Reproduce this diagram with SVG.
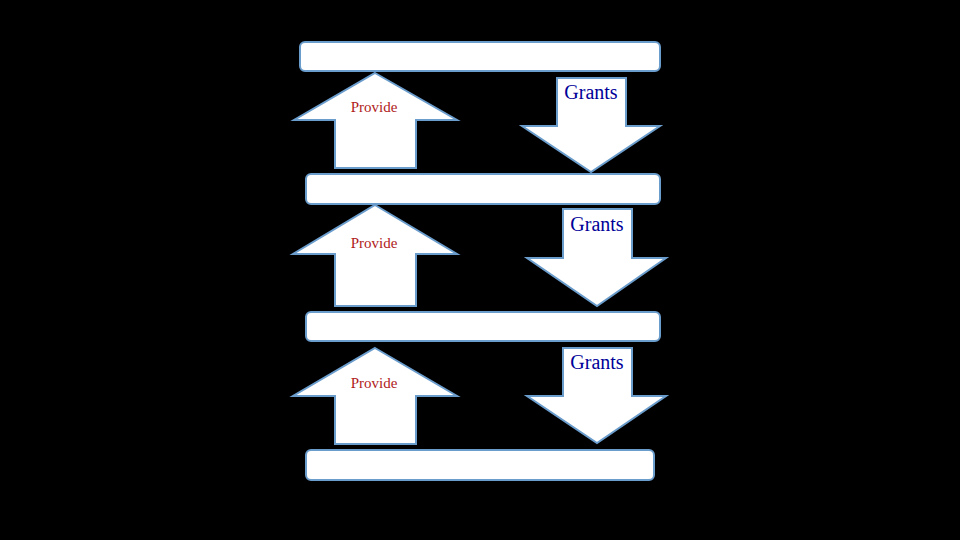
<svg xmlns="http://www.w3.org/2000/svg" width="960" height="540" viewBox="0 0 960 540">
<style>
.bar{fill:#ffffff;stroke:#6a9ccc;stroke-width:2}
.arr{fill:#ffffff;stroke:#6a9ccc;stroke-width:2;stroke-linejoin:miter}
.prov{font-family:"Liberation Serif",serif;font-size:15px;fill:#b02020;text-anchor:middle}
.grant{font-family:"Liberation Serif",serif;font-size:20px;fill:#000099;text-anchor:middle}
</style>
<rect width="960" height="540" fill="#000000"/>
<g id="bar1"><rect class="bar" x="300" y="42" width="360" height="29" rx="5"/></g>
<g id="bar2"><rect class="bar" x="306" y="174" width="354" height="30" rx="5"/></g>
<g id="bar3"><rect class="bar" x="306" y="312" width="354" height="29" rx="5"/></g>
<g id="bar4"><rect class="bar" x="306" y="450" width="348" height="30" rx="5"/></g>
<g id="connectors">
<g id="up1"><polygon class="arr" points="375,73 457,120 416,120 416,168 335,168 335,120 294,120"/><text class="prov" x="374" y="112">Provide</text></g>
<g id="down1"><polygon class="arr" points="557,78 626,78 626,126 660,126 591,172 522,126 557,126"/><text class="grant" x="591" y="99">Grants</text></g>
<g id="up2"><polygon class="arr" points="375,205 457,254 416,254 416,306 335,306 335,254 293,254"/><text class="prov" x="374" y="248">Provide</text></g>
<g id="down2"><polygon class="arr" points="563,209 632,209 632,258 666,258 597,306 527,258 563,258"/><text class="grant" x="597" y="231">Grants</text></g>
<g id="up3"><polygon class="arr" points="375,348 457,396 416,396 416,444 335,444 335,396 293,396"/><text class="prov" x="374" y="388">Provide</text></g>
<g id="down3"><polygon class="arr" points="563,348 632,348 632,396 666,396 597,443 527,396 563,396"/><text class="grant" x="597" y="369">Grants</text></g>
</g>
</svg>
